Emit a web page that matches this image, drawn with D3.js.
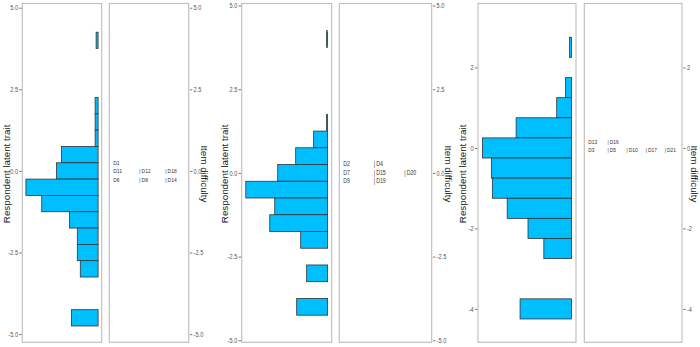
<!DOCTYPE html>
<html>
<head>
<meta charset="utf-8">
<script src="https://cdn.jsdelivr.net/npm/d3@7"></script>
<style>
  html, body { margin: 0; padding: 0; background: #fff; }
  svg { display: block; }
  .tick-label { font-family: "Liberation Sans", Arial, sans-serif; font-size: 7px; fill: #555; }
  .item-label { font-family: "Liberation Sans", Arial, sans-serif; fill: #333; }
  .axis-title { font-family: "Liberation Sans", Arial, sans-serif; font-size: 9.8px; fill: #222; }
</style>
</head>
<body>
<svg id="chart" width="700" height="347"></svg>
<script>
// ---------------- DATA ----------------
// Person histogram bins (bin centres, width 0.5) and counts
const bins1   = [4.0, 3.5, 3.0, 2.5, 2.0, 1.5, 1.0, 0.5, 0.0, -0.5, -1.0, -1.5, -2.0, -2.5, -3.0, -3.5, -4.0, -4.5];
const counts1 = [2,   0,   0,   0,   3,   3,   3,   37,  42,  73,   57,   29,   21,   21,   18,   0,    0,    27];

const bins2   = [4.0, 3.5, 3.0, 2.5, 2.0, 1.5, 1.0, 0.5, 0.0, -0.5, -1.0, -1.5, -2.0, -2.5, -3.0, -3.5, -4.0];
const counts2 = [1,   0,   0,   0,   0,   1,   14,  32,  50,  82,   53,   58,   27,   0,    21,   0,    31];

const bins3   = [2.5, 2.0, 1.5, 1.0, 0.5, 0.0, -0.5, -1.0, -1.5, -2.0, -2.5, -3.0, -3.5, -4.0];
const counts3 = [2,   0,   6,   15,  56,  90,  81,   80,   65,   44,   28,   0,    0,    52];

// Item difficulty rows and the items listed in each row
const itemDiff1   = [0.25, 0.0, -0.25];
const itemLabels1 = [["D1"], ["D11", "D12", "D18"], ["D6", "D8", "D14"]];

const itemDiff2   = [0.27, 0.02, -0.23];
const itemLabels2 = [["D2", "D4"], ["D7", "D15", "D20"], ["D9", "D19"]];

const itemDiff3   = [0.15, -0.03];
const itemLabels3 = [["D13", "D16"], ["D3", "D5", "D10", "D17", "D21"]];

// Tick values
const ticks1 = [-5, -2.5, 0, 2.5, 5];
const ticks2 = [-5, -2.5, 0, 2.5, 5];
const ticks3 = [-4, -2, 0, 2];

const leftTitle = "Respondent latent trait";
const rightTitle = "Item difficulty";

// ---------------- LAYOUT ----------------
const panels = [
  { bins: bins1, counts: counts1, diff: itemDiff1, items: itemLabels1, ticks: ticks1, fmt: ".1f", itemSize: 6.2,
    yDomain: [-5.25, 5.13], L: [22.3, 101.7], R: [109.3, 188.7], lt: 6.5, rt: 204.5 },
  { bins: bins2, counts: counts2, diff: itemDiff2, items: itemLabels2, ticks: ticks2, fmt: ".1f", itemSize: 6.5,
    yDomain: [-5.06, 5.06], L: [241.7, 331.7], R: [339.3, 431.7], lt: 224, rt: 448.5 },
  { bins: bins3, counts: counts3, diff: itemDiff3, items: itemLabels3, ticks: ticks3, fmt: "d", itemSize: 6.1,
    yDomain: [-4.83, 3.59], L: [478, 576], R: [584.3, 682], lt: 462, rt: 694 }
];
const plotTop = 3.5, plotBottom = 342.3;
const binWidth = 0.5;
const squeeze = 0.8;

const locale = d3.formatLocale({ decimal: ".", thousands: ",", grouping: [3], currency: ["$", ""], minus: "-" });

const svg = d3.select("#chart");

function condense(sel) {
  sel.each(function () {
    const w = this.getComputedTextLength();
    if (w > 0) {
      this.setAttribute("textLength", (w * squeeze).toFixed(2));
      this.setAttribute("lengthAdjust", "spacingAndGlyphs");
    }
  });
}

panels.forEach(p => {
  const g = svg.append("g");
  const y = d3.scaleLinear().domain(p.yDomain).range([plotBottom, plotTop]);
  const maxC = d3.max(p.counts);
  const x = d3.scaleLinear().domain([-0.05 * maxC, 1.05 * maxC]).range([p.L[1], p.L[0]]);
  const fmt = locale.format(p.fmt);

  // bars
  const data = p.bins.map((b, i) => ({ b, c: p.counts[i] }));
  g.selectAll("rect.bar").data(data).enter().append("rect")
    .attr("class", "bar")
    .attr("x", d => x(d.c))
    .attr("width", d => x(0) - x(d.c))
    .attr("y", d => y(d.b + binWidth / 2))
    .attr("height", d => y(d.b - binWidth / 2) - y(d.b + binWidth / 2))
    .attr("fill", "#00BFFF")
    .attr("stroke", "#333")
    .attr("stroke-width", 0.8);

  // panel borders
  [p.L, p.R].forEach(r => {
    g.append("rect")
      .attr("x", r[0]).attr("y", plotTop)
      .attr("width", r[1] - r[0]).attr("height", plotBottom - plotTop)
      .attr("fill", "none").attr("stroke", "#bdbdbd").attr("stroke-width", 1.1);
  });

  // left axis
  const leftAxis = d3.axisLeft(y).tickValues(p.ticks).tickFormat(fmt).tickSize(2.5).tickPadding(1.2);
  const la = g.append("g").attr("transform", `translate(${p.L[0] - 0.6},0)`).call(leftAxis);
  la.select(".domain").remove();
  la.selectAll(".tick line").attr("stroke", "#555").attr("stroke-width", 0.8);
  la.selectAll(".tick text").attr("class", "tick-label").attr("font-size", null).attr("font-family", null).attr("fill", null);
  condense(la.selectAll(".tick text"));

  // right axis
  const rightAxis = d3.axisRight(y).tickValues(p.ticks).tickFormat(fmt).tickSize(2.5).tickPadding(1.2);
  const ra = g.append("g").attr("transform", `translate(${p.R[1] + 1.2},0)`).call(rightAxis);
  ra.select(".domain").remove();
  ra.selectAll(".tick line").attr("stroke", "#555").attr("stroke-width", 0.8);
  ra.selectAll(".tick text").attr("class", "tick-label").attr("font-size", null).attr("font-family", null).attr("fill", null);
  condense(ra.selectAll(".tick text"));

  // item labels
  const nCol = d3.max(p.items, r => r.length);
  const xc = d3.scaleLinear().domain([0, nCol - 0.1]).range([p.R[0] + 4, p.R[1]]);
  p.items.forEach((row, ri) => {
    row.forEach((lab, ci) => {
      const t = g.append("text")
        .attr("class", "item-label")
        .attr("font-size", p.itemSize + "px")
        .attr("x", xc(ci))
        .attr("y", y(p.diff[ri]))
        .attr("dominant-baseline", "central")
        .text((ci === 0 ? "" : "|\u2009") + lab);
      condense(t);
    });
  });

  // titles
  const mid = (plotTop + plotBottom) / 2 + 1;
  g.append("text").attr("class", "axis-title")
    .attr("transform", `translate(${p.lt},${mid}) rotate(-90)`)
    .attr("text-anchor", "middle").attr("dominant-baseline", "central")
    .text(leftTitle);
  g.append("text").attr("class", "axis-title")
    .attr("transform", `translate(${p.rt},${mid}) rotate(90)`)
    .attr("text-anchor", "middle").attr("dominant-baseline", "central")
    .text(rightTitle);
});
</script>
</body>
</html>
